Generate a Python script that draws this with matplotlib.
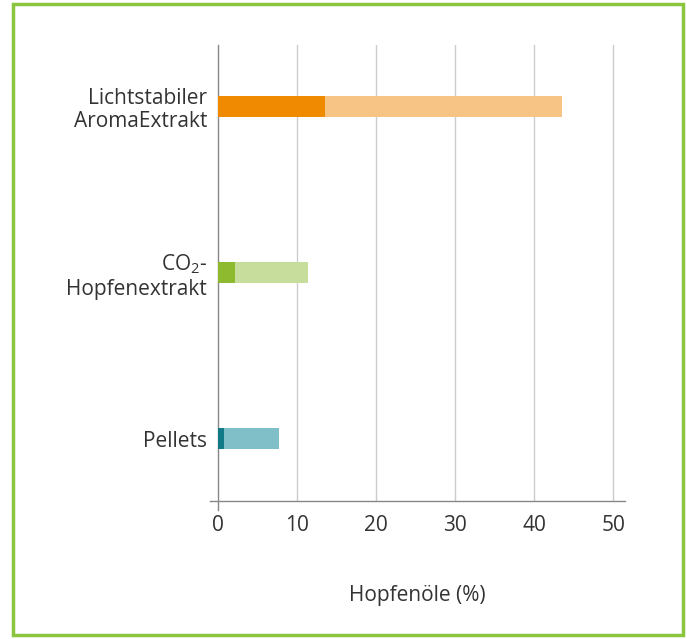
import numpy as np
import matplotlib.pyplot as plt
from matplotlib.patches import Rectangle

# data
categories = ["Pellets", "CO$_{\\mathregular{2}}$-\nHopfenextrakt", "Lichtstabiler\nAromaExtrakt"]
dark_part = [0.7, 2.1, 13.5]
total = [7.7, 11.4, 43.5]
dark_colors = ["#127A87", "#8DBA2E", "#F08A00"]
light_colors = ["#80BEC8", "#C6DD9B", "#F7C485"]
xticks = [0, 10, 20, 30, 40, 50]

plt.rcParams['font.family'] = ['Open Sans', 'DejaVu Sans']
text_col = "#333333"

fig = plt.figure(figsize=(6.87, 6.39), dpi=100)
ax = fig.add_axes([210/687, 1 - 501/639, 415/687, 456/639])

y = np.arange(len(categories))
rest = np.array(total) - np.array(dark_part)
ax.barh(y, dark_part, height=0.127, color=dark_colors, zorder=3)
ax.barh(y, rest, left=dark_part, height=0.127, color=light_colors, zorder=3)

ax.set_xlim(-1.05, 51.5)
ax.set_ylim(-0.376, 2.37)
ax.set_xticks(xticks)
ax.set_yticks(y)
ax.set_yticklabels(categories, fontsize=15, color=text_col, linespacing=1.15)
ax.tick_params(axis='y', length=0, pad=2)
ax.tick_params(axis='x', length=0, pad=10, labelsize=15, labelcolor=text_col)

for xv in xticks[1:]:
    ax.axvline(xv, color="#cccccc", lw=1, zorder=1)
ax.plot([0, 0], [-0.43, 2.37], color="#888888", lw=1, clip_on=False, zorder=2)

for side in ["top", "right", "left"]:
    ax.spines[side].set_visible(False)
ax.spines["bottom"].set_color("#888888")
ax.spines["bottom"].set_linewidth(1)

ax.set_xlabel("Hopfenöle (%)", fontsize=15, color=text_col, labelpad=35)

# green frame around the whole figure
fig.patches.append(Rectangle((13/687, 4/639), 670/687, 631/639, transform=fig.transFigure,
                             fill=False, edgecolor="#8CC63F", lw=2.5))

fig.savefig("out.png", dpi=100)
